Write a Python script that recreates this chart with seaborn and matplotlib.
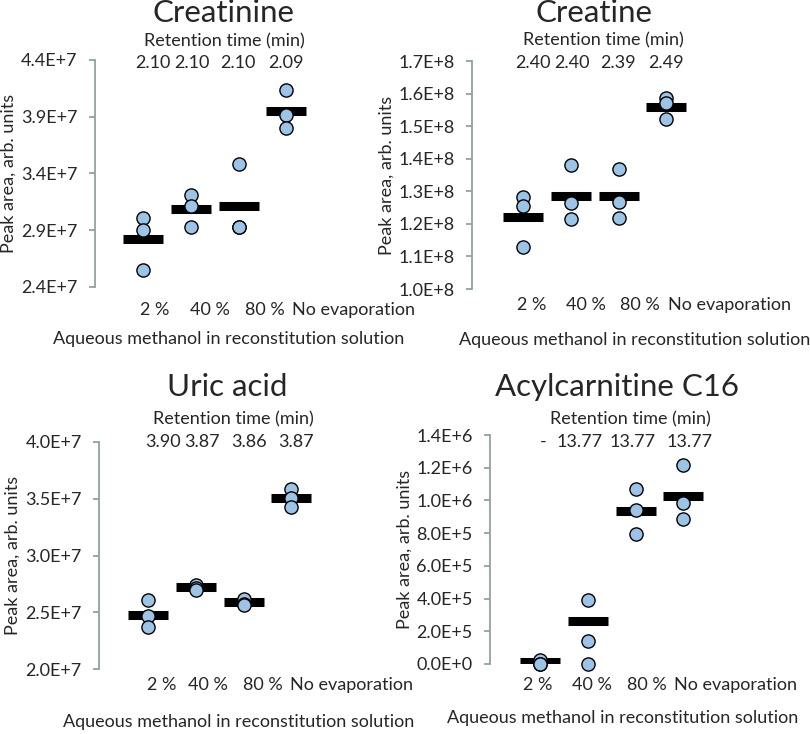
import numpy as np
import pandas as pd
import matplotlib
matplotlib.use("Agg")
import matplotlib.pyplot as plt
import seaborn as sns

sns.set_style("white")
plt.rcParams['font.family'] = ['Lato', 'DejaVu Sans']

groups = ["2 %", "40 %", "80 %", "No evaporation"]

# peak areas, three replicates per group
creatinine_vals = [[3.007e7, 2.904e7, 2.547e7],
                   [3.212e7, 3.118e7, 2.928e7],
                   [3.482e7, 2.930e7, 2.925e7],
                   [4.136e7, 3.916e7, 3.805e7]]
creatinine_mean = [2.82e7, 3.09e7, 3.115e7, 3.953e7]
creatinine_rt = ["2.10", "2.10", "2.10", "2.09"]
creatinine_ticks = [2.4e7, 2.9e7, 3.4e7, 3.9e7, 4.4e7]

creatine_vals = [[1.283e8, 1.256e8, 1.129e8],
                 [1.380e8, 1.265e8, 1.215e8],
                 [1.369e8, 1.267e8, 1.217e8],
                 [1.586e8, 1.571e8, 1.522e8]]
creatine_mean = [1.222e8, 1.285e8, 1.285e8, 1.560e8]
creatine_rt = ["2.40", "2.40", "2.39", "2.49"]
creatine_ticks = [1.0e8, 1.1e8, 1.2e8, 1.3e8, 1.4e8, 1.5e8, 1.6e8, 1.7e8]

uric_vals = [[2.605e7, 2.465e7, 2.371e7],
             [2.743e7, 2.717e7, 2.700e7],
             [2.620e7, 2.576e7, 2.565e7],
             [3.585e7, 3.509e7, 3.430e7]]
uric_mean = [2.48e7, 2.72e7, 2.587e7, 3.508e7]
uric_rt = ["3.90", "3.87", "3.86", "3.87"]
uric_ticks = [2.0e7, 2.5e7, 3.0e7, 3.5e7, 4.0e7]

acyl_vals = [[2.5e4, 0.0, 0.0],
             [3.93e5, 1.38e5, 0.0],
             [1.068e6, 9.42e5, 7.94e5],
             [1.215e6, 9.87e5, 8.87e5]]
acyl_mean = [1.0e4, 2.6e5, 9.34e5, 1.03e6]
acyl_rt = ["-", "13.77", "13.77", "13.77"]
acyl_ticks = [0.0, 2e5, 4e5, 6e5, 8e5, 1.0e6, 1.2e6, 1.4e6]

W, H = 810, 734
fig = plt.figure(figsize=(W / 100, H / 100), dpi=100)

SPINE = '#8FA3A3'
FACE = '#9DC3E6'
STEP = 47.8  # pixels per category


def fmt(v):
    if v == 0:
        return "0.0E+0"
    e = int(np.floor(np.log10(abs(v))))
    return f"{v / 10**e:.1f}E+{e}"


def ftxt(x, y, s, **kw):
    fig.text(x / W, 1 - y / H, s, ha='center', va='center', **kw)


def panel(name, vals, means, rt, ticks, box, lay):
    spine_x, top, bottom, first = box
    width = 250
    ax = fig.add_axes([spine_x / W, 1 - bottom / H, width / W, (bottom - top) / H])
    df = pd.DataFrame({
        'group': np.repeat(groups, [len(v) for v in vals]),
        'area': np.concatenate(vals),
    })
    pos = np.arange(len(groups))
    ax.hlines(means, pos - 0.42, pos + 0.42, colors='black', lw=6.5,
              capstyle='butt', zorder=2)
    sns.stripplot(data=df, x='group', y='area', order=groups, jitter=False,
                  color=FACE, edgecolor='black', linewidth=1.0, size=9.5,
                  ax=ax, zorder=3, clip_on=False)
    x0 = -(first - spine_x) / STEP
    ax.set_xlim(x0, x0 + width / STEP)
    ax.set_ylim(ticks[0], ticks[-1])
    ax.set_yticks(ticks)
    ax.set_yticklabels([fmt(t) for t in ticks], fontsize=13)
    ax.set_xticks([])
    ax.set_xlabel('')
    ax.set_ylabel('')
    for s in ['top', 'right', 'bottom']:
        ax.spines[s].set_visible(False)
    ax.spines['left'].set_color(SPINE)
    ax.spines['left'].set_linewidth(1.3)
    ax.tick_params(axis='y', direction='out', length=4.5, width=1.3,
                   color=SPINE, pad=8, left=True)
    ax.patch.set_alpha(0)

    ftxt(*lay['title'], name, fontsize=22.5)
    ftxt(*lay['rth'], "Retention time (min)", fontsize=13)
    for x, s in zip(lay['rtx'], rt):
        ftxt(x, lay['rty'], s, fontsize=13)
    for x, s in zip(lay['catx'], groups):
        ftxt(x, lay['caty'], s, fontsize=13)
    ftxt(*lay['xlab'], "Aqueous methanol in reconstitution solution", fontsize=13)
    ftxt(lay['ylab'], (top + bottom) / 2, "Peak area, arb. units",
         fontsize=13, rotation=90)


panel("Creatinine", creatinine_vals, creatinine_mean, creatinine_rt,
      creatinine_ticks, (95, 60, 287, 143),
      dict(title=(223, 13), rth=(224, 41), rtx=[153, 192, 238, 286], rty=63,
           catx=[155, 210, 265, 353], caty=310, xlab=(229, 339), ylab=9))

panel("Creatine", creatine_vals, creatine_mean, creatine_rt,
      creatine_ticks, (472, 61, 289, 523),
      dict(title=(594, 13), rth=(603, 40), rtx=[533, 572, 618, 666], rty=63,
           catx=[532, 586, 640, 729], caty=305, xlab=(635, 340), ylab=387))

panel("Uric acid", uric_vals, uric_mean, uric_rt,
      uric_ticks, (99, 442, 669, 148),
      dict(title=(227, 387), rth=(233, 419), rtx=[163, 202, 249, 296], rty=442,
           catx=[162, 208, 263, 352], caty=685, xlab=(239, 722), ylab=13))

panel("Acylcarnitine C16", acyl_vals, acyl_mean, acyl_rt,
      acyl_ticks, (490, 435, 664, 540),
      dict(title=(617, 387), rth=(630, 419), rtx=[543, 580, 633, 690], rty=442,
           catx=[538, 592, 647, 735], caty=685, xlab=(623, 718), ylab=405))

fig.savefig("out.png", dpi=100)
